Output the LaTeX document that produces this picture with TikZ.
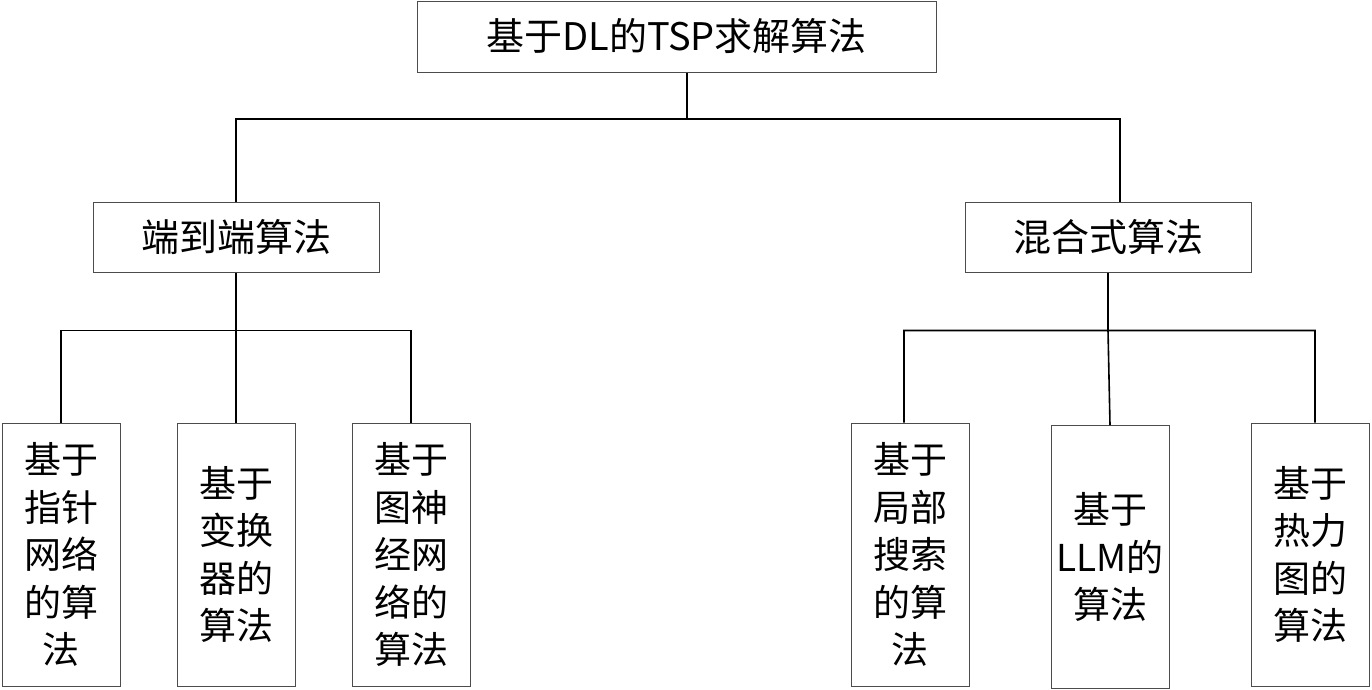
\documentclass[tikz,border=0pt]{standalone}
\usepackage{fontspec}
\setmainfont{Noto Sans CJK SC}
\begin{document}
\begin{tikzpicture}[x=1pt,y=-1pt,line join=miter,
	box/.style={draw=black!70,line width=1pt,fill=white,inner sep=0pt,align=center},
	topbox/.style={box,minimum width=519pt,minimum height=71pt,font=\fontsize{38}{46}\selectfont},
	midbox/.style={box,minimum width=286pt,minimum height=70pt,font=\fontsize{38}{46}\selectfont},
	leafbox/.style={box,minimum width=118pt,minimum height=263pt,font=\fontsize{37}{47.5}\selectfont},
	link/.style={line width=1.6pt,black}]
	\useasboundingbox (0,0) rectangle (1372,689);
	% boxes
	\node[topbox] (root) at (676.5,36.5) {基于DL的TSP求解算法};
	\node[midbox] (e2e) at (236,237) {端到端算法};
	\node[midbox] (hyb) at (1108,237) {混合式算法};
	\node[leafbox] (ptr) at (61,554.5) {基于\\指针\\网络\\的算\\法};
	\node[leafbox] (trf) at (236,554.5) {基于\\变换\\器的\\算法};
	\node[leafbox] (gnn) at (411,554.5) {基于\\图神\\经网\\络的\\算法};
	\node[leafbox] (ls) at (910,554.5) {基于\\局部\\搜索\\的算\\法};
	\node[leafbox] (llm) at (1110,557) {基于\\LLM的\\算法};
	\node[leafbox] (hm) at (1310.5,554.5) {基于\\热力\\图的\\算法};
	% connectors
	\coordinate (j0) at (687,119);
	\draw[link] ([xshift=10.5pt]root.south) -- (j0);
	\draw[link] (e2e.north) |- (j0) -| ([xshift=12pt]hyb.north);
	\draw[link] (e2e.south) -- ++(0,58) coordinate (jl);
	\draw[link] (ptr.north) |- (jl) -| (gnn.north) (jl) -- (trf.north);
	\draw[link] (hyb.south) -- ++(0,58) coordinate (jr);
	\draw[link] ([xshift=-6pt]ls.north) |- (jr) -| ([xshift=4.5pt]hm.north) (jr) -- (llm.north);
\end{tikzpicture}
\end{document}
